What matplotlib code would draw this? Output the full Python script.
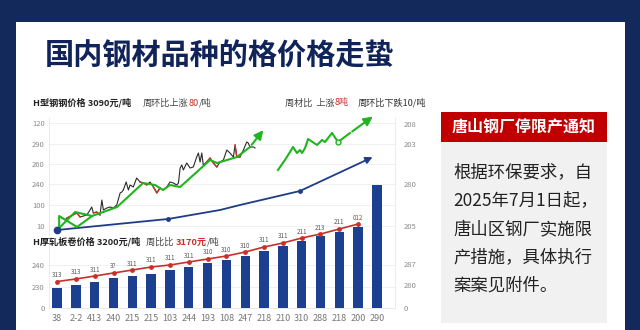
import numpy as np
import matplotlib.pyplot as plt
from matplotlib.patches import Rectangle

plt.rcParams['font.family'] = ['Noto Sans CJK SC', 'DejaVu Sans']

W, H = 640, 330
NAVY = '#13295b'
BAR = '#1d3f8f'
GREEN = '#1fb51f'
RED = '#c8312a'

# bar categories and heights
cats = ['38', '2-2', '413', '240', '215', '215', '103', '244', '193', '108',
        '247', '218', '210', '310', '288', '218', '200', '290']
bars = [20, 23, 26, 30, 32, 34, 38, 41, 45, 48, 52, 57, 62, 67, 72, 76, 81, 123]

# red line over the bars and its little labels
trend = [26.5, 29, 32, 35, 38, 41, 43, 46, 49, 52, 56, 61, 65, 70, 74, 79, 84]
trend_lbl = ['313', '313', '311', '3?', '311', '311', '311', '311', '310', '310',
             '310', '311', '311', '211', '213', '211', '012']

# daily price line (H beam)
px_x = [0.25, 0.43, 0.52, 1.05, 1.22, 1.40, 1.58, 1.75, 1.84, 1.93,
        2.11, 2.28, 2.38, 2.46, 2.64, 2.82, 2.99, 3.17, 3.35, 3.44,
        3.52, 3.67, 3.79, 3.88, 4.05, 4.23, 4.41, 4.59, 4.77, 4.94,
        5.12, 5.30, 5.47, 5.65, 5.83, 6.00, 6.18, 6.36, 6.45, 6.54,
        6.63, 6.71, 6.89, 7.07, 7.24, 7.42, 7.51, 7.60, 7.69, 7.77,
        7.95, 8.13, 8.30, 8.49, 8.66, 8.84, 9.02, 9.19, 9.37, 9.46,
        9.55, 9.72, 9.90, 10.08, 10.16, 10.25, 10.43, 10.52]
px_y = [90, 88, 90, 95, 91, 92, 93, 98, 101, 95,
        96, 93, 108, 98, 100, 101, 100, 103, 115, 116,
        118, 126, 118, 123, 121, 130, 126, 125, 123, 126,
        121, 115, 120, 118, 121, 126, 125, 123, 125, 140,
        143, 138, 145, 140, 141, 151, 155, 146, 155, 143,
        146, 150, 145, 141, 146, 148, 158, 155, 151, 163,
        151, 151, 158, 166, 165, 161, 161, 160]
red_spans = [(2, 4), (9, 11), (26, 28), (30, 32), (50, 53), (59, 61)]

# green trend lines
g1_x = [0.11, 0.11, 1.06, 1.86, 3.19, 4.57, 5.21, 5.63, 6.0, 6.54, 8.13, 8.50, 9.56, 10.25, 11.05]
g1_y = [80, 92, 81, 92, 101, 125, 123, 118, 123, 121, 148, 145, 151, 161, 180]
g1b_x = [0.11, 0.96, 1.86]
g1b_y = [80, 96, 92]
g2_x = [11.74, 12.11, 12.38, 12.54, 12.75, 12.91, 13.02, 13.18, 13.34, 13.82,
        14.08, 14.24, 14.61, 14.93, 15.57, 16.90]
g2_y = [138, 148, 156, 161, 155, 158, 155, 160, 169, 163, 168, 166, 175, 166, 175, 193]

# blue long-term line
b_x = [0, 5.9, 8.66, 9.72, 12.91, 16.9]
b_y = [78, 89, 98, 103, 117, 152]

left_ticks = [0, 21, 43, 82, 103, 124, 144, 164, 185]
left_lbls = ['0', '230', '240', '10', '100', '240', '260', '290', '120']
right_ticks = [0, 23, 44, 82, 124, 164, 184]
right_lbls = ['0', '280', '287', '205', '280', '203', '208']


def fp(x, y):
    return x / W, 1 - y / H


fig = plt.figure(figsize=(6.4, 3.3), dpi=100, facecolor=NAVY)
renderer = fig.canvas.get_renderer()


def chain(x, y, parts, size=6.6):
    # lay text pieces side by side, each starting where the last one ended
    for s, color, weight in parts:
        t = fig.text(*fp(x, y), s, fontsize=size, color=color, fontweight=weight,
                     ha='left', va='center')
        x += t.get_window_extent(renderer).width


# white panel
x0, y0 = fp(16, 330)
fig.add_artist(Rectangle((x0, y0), 609 / W, 308 / H, transform=fig.transFigure,
                         facecolor='white', edgecolor='none', zorder=-5))

fig.text(*fp(45, 56), '国内钢材品种的格价格走蛰', fontsize=21, fontweight='black',
         color='#10245a', va='center', ha='left')

# chart area
l, b = fp(49, 308)
r, t = fp(395, 118)
ax = fig.add_axes([l, b, r - l, t - b])
ax.set_facecolor('none')
ax.set_xlim(-0.43, 17.96)
ax.set_ylim(0, 190)

xs = np.arange(len(cats))
ax.bar(xs, bars, width=0.5, color=BAR, zorder=2)
ax.plot(xs[:len(trend)], trend, color=RED, lw=1.2, zorder=3)
ax.scatter(xs[:len(trend)], trend, s=6, color=RED, zorder=4)
for i, (v, s) in enumerate(zip(trend, trend_lbl)):
    ax.text(i, v + 2.5, s, fontsize=4.5, color='#555555' if i < 16 else RED,
            ha='center', va='bottom', zorder=5)

ax.plot(px_x, px_y, color='#2b2b2b', lw=0.8, zorder=3)
for a, c in red_spans:
    ax.plot(px_x[a:c + 1], px_y[a:c + 1], color=RED, lw=1.0, zorder=4)

for gx, gy in [(g1_x, g1_y), (g2_x, g2_y)]:
    ax.plot(gx[:-1], gy[:-1], color=GREEN, lw=1.5, zorder=5, clip_on=False)
    ax.annotate('', xy=(gx[-1], gy[-1]), xytext=(gx[-2], gy[-2]),
                arrowprops=dict(arrowstyle='-|>', color=GREEN, lw=1.5, mutation_scale=13),
                zorder=5, annotation_clip=False)
ax.plot(g1b_x, g1b_y, color=GREEN, lw=1.5, zorder=5)
ax.plot([14.93], [166], marker='o', ms=3.5, mfc='white', mec=GREEN, mew=1, zorder=6)

ax.plot(b_x[:-1], b_y[:-1], color='#1f3c88', lw=1.3, zorder=4)
ax.annotate('', xy=(b_x[-1], b_y[-1]), xytext=(b_x[-2], b_y[-2]),
            arrowprops=dict(arrowstyle='-|>', color='#1f3c88', lw=1.3, mutation_scale=10),
            zorder=4)
ax.plot([b_x[1], b_x[4]], [b_y[1], b_y[4]], 'o', color='#1f3c88', ms=2.5, zorder=4)
ax.plot([b_x[0]], [b_y[0]], 'o', color='#1f3c88', ms=4.5, zorder=6)

ax.set_yticks(left_ticks)
ax.set_yticklabels(left_lbls)
ax.grid(axis='y', color='#eeeeee', lw=0.6, zorder=0)
ax.set_xticks(xs)
ax.set_xticklabels(cats)
ax.tick_params(axis='x', length=0, labelsize=6.5, labelcolor='#777777', pad=4)
ax.tick_params(axis='y', length=0, labelsize=5.5, labelcolor='#8a8a8a', pad=3)
for s in ['left', 'right', 'bottom']:
    ax.spines[s].set_color('#e6e6e6')
    ax.spines[s].set_linewidth(0.6)
ax.spines['top'].set_visible(False)

ax2 = ax.twinx()
ax2.set_ylim(0, 190)
ax2.set_yticks(right_ticks)
ax2.set_yticklabels(right_lbls)
ax2.tick_params(axis='y', length=0, labelsize=5.5, labelcolor='#8a8a8a', pad=6)
for s in ax2.spines.values():
    s.set_visible(False)

# section headings
DARK, MID = '#222222', '#444444'
chain(33, 103, [('H型钢钢价格 3090元/吨', DARK, 'bold')])
chain(143, 103, [('周环比上涨', MID, 'normal'), ('80', RED, 'normal'), ('/吨', MID, 'normal')])
chain(285, 103, [('周材比  上涨', MID, 'normal'), ('8吨', RED, 'normal')])
chain(358, 103, [('周环比下跌10/吨', '#333333', 'normal')])

chain(33, 242, [('H厚轧板卷价格 3200元/吨', DARK, 'bold'), ('   周比比 ', MID, 'normal'),
                ('3170元', RED, 'bold'), ('/吨', MID, 'normal')])

# notice box
nx, ny = fp(441, 142)
fig.add_artist(Rectangle((nx, ny), 166 / W, 30 / H, transform=fig.transFigure,
                         facecolor='#c00000', edgecolor='none'))
bx, by = fp(441, 323)
fig.add_artist(Rectangle((bx, by), 166 / W, 181 / H, transform=fig.transFigure,
                         facecolor='#f1f1f1', edgecolor='none'))
fig.text(*fp(524, 127), '唐山钢厂停限产通知', fontsize=11.5, fontweight='bold',
         color='white', ha='center', va='center')
notice = ['根据环保要求，自', '2025年7月1日起，', '唐山区钢厂实施限',
          '产措施，具体执行', '案案见附件。']
for k, line in enumerate(notice):
    fig.text(*fp(453, 172 + 28.5 * k), line, fontsize=12.5, color='#222222',
             ha='left', va='center')

fig.savefig('out.png', dpi=100, facecolor=NAVY)
